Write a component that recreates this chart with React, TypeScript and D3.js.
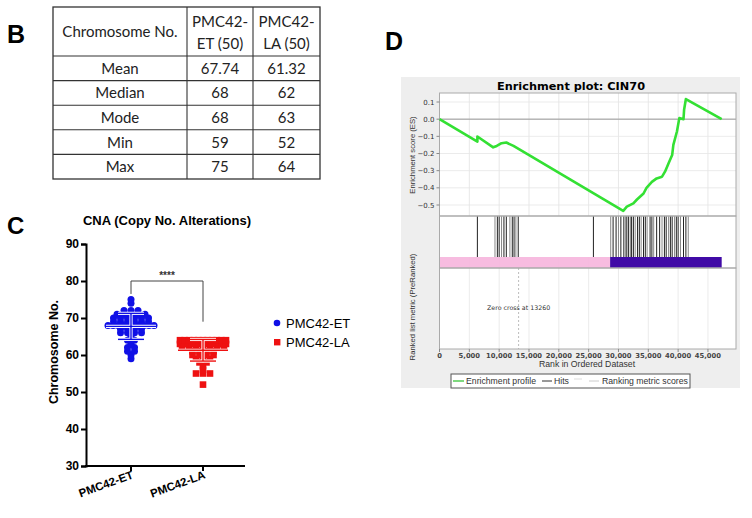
import { useEffect, useRef } from "react";
import * as d3 from "d3";

// Panel B table
const tableHeaders = [["Chromosome No."], ["PMC42-", "ET (50)"], ["PMC42-", "LA (50)"]];
const statRows = ["Mean", "Median", "Mode", "Min", "Max"];
const etStats = ["67.74", "68", "68", "59", "75"];
const laStats = ["61.32", "62", "63", "52", "64"];

// Panel C scatter
const groups = ["PMC42-ET", "PMC42-LA"];
const etValues = [59, 60, 61, 61, 62, 62, 63, 64, 64, 65, 66, 66, 66, 66, 67, 67, 67, 67,
    68, 68, 68, 68, 68, 68, 68, 68, 68, 68, 69, 69, 69, 69, 69, 69, 70, 70, 70, 70, 70, 70,
    71, 71, 71, 71, 71, 72, 72, 72, 74, 75];
const laValues = [52, 55, 55, 55, 56, 57, 58, 58, 59, 59, 59, 60, 60, 60, 60, 61, 61, 61, 61,
    62, 62, 62, 62, 62, 62, 62, 63, 63, 63, 63, 63, 63, 63, 63, 63, 63, 63, 63, 63,
    64, 64, 64, 64, 64, 64, 64, 64, 64, 64, 64];
const cnaTicks = [30, 40, 50, 60, 70, 80, 90];

// Panel D enrichment plot
const esRanks = [0, 6350, 6350, 9000, 9600, 10400, 11200, 12400, 30800, 31400, 32500, 33100, 34200,
    34700, 35600, 36400, 37300, 37800, 38400, 39000, 39200, 39800, 40200, 40900, 41000, 41300, 47300];
const esScores = [0, -0.131, -0.101, -0.164, -0.156, -0.14, -0.136, -0.156, -0.534, -0.51, -0.49,
    -0.468, -0.433, -0.4, -0.365, -0.345, -0.335, -0.306, -0.257, -0.209, -0.15, -0.072, 0.006,
    0.0, 0.055, 0.117, 0];
const hitRanks = [6350, 9300, 9700, 10000, 10400, 10800, 11200, 11800, 12200, 12500, 12800, 13200,
    25800, 28700, 29100, 29600, 30000, 30400, 30900, 31200, 31400, 31700, 32000, 32200, 32500,
    32800, 33200, 33500, 33800, 34200, 34500, 34800, 35300, 35600, 35900, 36400, 36900, 37300,
    37700, 38000, 38400, 38700, 39000, 39400, 39700, 40000, 40400, 40900, 41300, 41700];
const esTicks = [0.1, 0, -0.1, -0.2, -0.3, -0.4, -0.5];
const rankTicks = [0, 5000, 10000, 15000, 20000, 25000, 30000, 35000, 40000, 45000];
const datasetSize = 49700;
const zeroCross = 13260;
const posEnd = 28600;
const negEnd = 47300;

const ARIAL = "Arial, 'Liberation Sans', sans-serif";

export default function App() {
    const ref = useRef<SVGSVGElement>(null);

    useEffect(() => {
        const svg = d3.select(ref.current);
        svg.selectAll("*").remove();

        // ---------- B: table ----------
        const tb = svg.append("g").style("font-family", "Lato, 'Open Sans', sans-serif");
        svg.append("text").attr("x", 7).attr("y", 43).text("B")
            .style("font", `bold 25px ${ARIAL}`);
        const colX = [53, 187, 253, 320];
        const rowY = d3.scaleLinear().domain([0, 5]).range([56, 179]);
        tb.append("rect").attr("x", colX[0]).attr("y", 7)
            .attr("width", colX[3] - colX[0]).attr("height", rowY(5) - 7)
            .attr("fill", "none").attr("stroke", "#333").attr("stroke-width", 1.3);
        [1, 2].forEach(i => tb.append("line").attr("x1", colX[i]).attr("x2", colX[i])
            .attr("y1", 7).attr("y2", rowY(5)).attr("stroke", "#333").attr("stroke-width", 1.1));
        d3.range(5).forEach(i => tb.append("line").attr("x1", colX[0]).attr("x2", colX[3])
            .attr("y1", rowY(i)).attr("y2", rowY(i)).attr("stroke", "#333").attr("stroke-width", 1.1));
        tableHeaders.forEach((lines, c) => {
            const cx = (colX[c] + colX[c + 1]) / 2;
            lines.forEach((t, k) => {
                tb.append("text").attr("x", cx)
                    .attr("y", lines.length === 1 ? 37 : 27 + k * 22)
                    .attr("text-anchor", "middle").attr("font-size", 15).attr("fill", "#222").text(t);
            });
        });
        statRows.forEach((r, i) => {
            const y = (rowY(i) + rowY(i + 1)) / 2 + 5.5;
            [r, etStats[i], laStats[i]].forEach((t, c) => {
                tb.append("text").attr("x", (colX[c] + colX[c + 1]) / 2).attr("y", y)
                    .attr("text-anchor", "middle").attr("font-size", 15).attr("fill", "#222").text(t);
            });
        });

        // ---------- C: scatter ----------
        const cg = svg.append("g").style("font-family", ARIAL);
        svg.append("text").attr("x", 7).attr("y", 234).text("C")
            .style("font", `bold 24px ${ARIAL}`);
        cg.append("text").attr("x", 167).attr("y", 225).attr("text-anchor", "middle")
            .attr("font-weight", "bold").attr("font-size", 13).text("CNA (Copy No. Alterations)");

        const yScale = d3.scaleLinear().domain([30, 90]).range([466, 244]);
        const xScale = d3.scalePoint().domain(groups).range([131, 203]);

        const yAxis = cg.append("g").attr("transform", "translate(86,0)")
            .call(d3.axisLeft(yScale).tickValues(cnaTicks).tickSize(5).tickPadding(2));
        yAxis.select(".domain").attr("stroke-width", 2);
        yAxis.selectAll(".tick line").attr("stroke-width", 2);
        yAxis.selectAll("text").attr("font-size", 12).attr("font-weight", "bold")
            .attr("font-family", ARIAL);

        cg.append("line").attr("x1", 85).attr("x2", 245).attr("y1", 466).attr("y2", 466)
            .attr("stroke", "#000").attr("stroke-width", 2);
        groups.forEach(g => {
            const x = xScale(g) as number;
            cg.append("line").attr("x1", x).attr("x2", x).attr("y1", 466).attr("y2", 471)
                .attr("stroke", "#000").attr("stroke-width", 2);
            cg.append("text").attr("transform", `translate(${x + 3},${478}) rotate(-20)`)
                .attr("text-anchor", "end").attr("font-size", 11.5).attr("font-weight", "bold").text(g);
        });
        cg.append("text").attr("transform", "translate(58,352) rotate(-90)")
            .attr("text-anchor", "middle").attr("font-size", 12.5).attr("font-weight", "bold")
            .text("Chromosome No.");

        const series = [
            { name: groups[0], values: etValues, color: "#1010e6", shape: "circle" },
            { name: groups[1], values: laValues, color: "#ee1111", shape: "square" },
        ];
        series.forEach(s => {
            const cx = xScale(s.name) as number;
            const rows = d3.group(s.values, v => v);
            rows.forEach((vals, v) => {
                const n = vals.length;
                const step = n > 1 ? Math.min(7, 46 / (n - 1)) : 0;
                vals.forEach((_, j) => {
                    const x = cx + (j - (n - 1) / 2) * step;
                    const y = yScale(v);
                    if (s.shape === "circle") {
                        cg.append("circle").attr("cx", x).attr("cy", y).attr("r", 3.5).attr("fill", s.color);
                    } else {
                        cg.append("rect").attr("x", x - 3.3).attr("y", y - 3.3)
                            .attr("width", 6.6).attr("height", 6.6).attr("fill", s.color);
                    }
                });
            });
            const m = d3.mean(s.values) as number;
            const sd = d3.deviation(s.values) as number;
            const segs = [
                [cx - 25, m, cx + 25, m],
                [cx - 13, m + sd, cx + 13, m + sd],
                [cx - 13, m - sd, cx + 13, m - sd],
                [cx, m - sd, cx, m + sd],
            ];
            [["#fff", 3.2], [s.color, 1.4]].forEach(([col, w]) => {
                segs.forEach(([x1, v1, x2, v2]) => cg.append("line")
                    .attr("x1", x1).attr("x2", x2).attr("y1", yScale(v1)).attr("y2", yScale(v2))
                    .attr("stroke", col as string).attr("stroke-width", w as number));
            });
        });

        // significance bracket
        const bx1 = xScale(groups[0]) as number, bx2 = xScale(groups[1]) as number;
        cg.append("path")
            .attr("d", `M${bx1},${yScale(76.5)}V${yScale(80)}H${bx2}V${yScale(69)}`)
            .attr("fill", "none").attr("stroke", "#444").attr("stroke-width", 1);
        cg.append("text").attr("x", (bx1 + bx2) / 2).attr("y", 279).attr("text-anchor", "middle")
            .attr("font-size", 10).attr("font-weight", "bold").attr("fill", "#333").text("****");

        // legend
        cg.append("circle").attr("cx", 277).attr("cy", 323).attr("r", 3.3).attr("fill", series[0].color);
        cg.append("rect").attr("x", 274).attr("y", 339).attr("width", 6.4).attr("height", 6.4).attr("fill", series[1].color);
        cg.append("text").attr("x", 286).attr("y", 327.5).attr("font-size", 13).text(groups[0]);
        cg.append("text").attr("x", 286).attr("y", 347).attr("font-size", 13).text(groups[1]);

        // ---------- D: GSEA ----------
        svg.append("text").attr("x", 385).attr("y", 50).text("D")
            .style("font", `bold 25px ${ARIAL}`);
        const dg = svg.append("g").style("font-family", "'DejaVu Sans', sans-serif");
        dg.append("rect").attr("x", 401).attr("y", 77).attr("width", 339).attr("height", 311).attr("fill", "#eeeeee");
        dg.append("text").attr("x", 571).attr("y", 89.5).attr("text-anchor", "middle")
            .attr("font-weight", "bold").attr("font-size", 11.3).text("Enrichment plot: CIN70");

        const rx = d3.scaleLinear().domain([0, datasetSize]).range([439.5, 736]);
        const ey = d3.scaleLinear().domain([-0.5, 0.1]).range([205, 102]);
        const esTop = 93, esBot = 216, hitBot = 257, barBot = 268, rankBot = 349;

        // panels
        dg.append("rect").attr("x", rx(0)).attr("y", esTop).attr("width", rx(datasetSize) - rx(0))
            .attr("height", rankBot - esTop).attr("fill", "#fff");
        // grid ES
        rankTicks.slice(1).forEach(t => dg.append("line").attr("x1", rx(t)).attr("x2", rx(t))
            .attr("y1", esTop).attr("y2", esBot).attr("stroke", "#e2e2e2").attr("stroke-width", 0.8));
        esTicks.forEach(t => dg.append("line").attr("x1", rx(0)).attr("x2", rx(datasetSize))
            .attr("y1", ey(t)).attr("y2", ey(t)).attr("stroke", "#e6e6e6").attr("stroke-width", 0.8));
        // grid ranked
        rankTicks.slice(1).forEach(t => dg.append("line").attr("x1", rx(t)).attr("x2", rx(t))
            .attr("y1", hitBot).attr("y2", rankBot).attr("stroke", "#e6e6e6").attr("stroke-width", 0.8));
        dg.append("line").attr("x1", rx(0)).attr("x2", rx(datasetSize)).attr("y1", ey(0)).attr("y2", ey(0))
            .attr("stroke", "#999").attr("stroke-width", 1);

        // colour bar
        dg.append("rect").attr("x", rx(0)).attr("y", hitBot).attr("width", rx(posEnd) - rx(0))
            .attr("height", barBot - hitBot).attr("fill", "#f6b6dd").attr("opacity", 0.92);
        dg.append("rect").attr("x", rx(posEnd)).attr("y", hitBot).attr("width", rx(negEnd) - rx(posEnd))
            .attr("height", barBot - hitBot).attr("fill", "#400aa6");

        // hits
        dg.selectAll(".hit").data(hitRanks).enter().append("line")
            .attr("x1", d => rx(d)).attr("x2", d => rx(d)).attr("y1", esBot).attr("y2", hitBot)
            .attr("stroke", (d, i) => (i % 3 === 1 ? "#888" : "#222")).attr("stroke-width", 1);

        // zero cross
        dg.append("line").attr("x1", rx(zeroCross)).attr("x2", rx(zeroCross)).attr("y1", barBot).attr("y2", rankBot)
            .attr("stroke", "#aaa").attr("stroke-dasharray", "2,2").attr("stroke-width", 0.8);
        dg.append("text").attr("x", 487).attr("y", 310).attr("font-size", 6.3).attr("fill", "#333")
            .text(`Zero cross at ${zeroCross}`);

        // frames
        [[esTop, esBot], [esBot, barBot], [barBot, rankBot]].forEach(([a, b]) =>
            dg.append("rect").attr("x", rx(0)).attr("y", a).attr("width", rx(datasetSize) - rx(0))
                .attr("height", b - a).attr("fill", "none").attr("stroke", "#aaa").attr("stroke-width", 1));

        // ES curve
        const line = d3.line<number>().x((d, i) => rx(esRanks[i])).y(d => ey(d));
        dg.append("path").datum(esScores).attr("d", line).attr("fill", "none")
            .attr("stroke", "#33e033").attr("stroke-width", 2.6).attr("stroke-linejoin", "round");

        // ticks
        esTicks.forEach(t => {
            dg.append("line").attr("x1", rx(0) - 3).attr("x2", rx(0)).attr("y1", ey(t)).attr("y2", ey(t)).attr("stroke", "#888");
            dg.append("text").attr("x", rx(0) - 5).attr("y", ey(t) + 2.5).attr("text-anchor", "end")
                .attr("font-size", 7).attr("fill", "#333").text(d3.format(".1f")(t));
        });
        rankTicks.forEach(t => {
            dg.append("line").attr("x1", rx(t)).attr("x2", rx(t)).attr("y1", rankBot).attr("y2", rankBot + 3).attr("stroke", "#888");
            dg.append("text").attr("x", rx(t)).attr("y", rankBot + 9).attr("text-anchor", "middle")
                .attr("font-size", 6.8).attr("font-weight", "bold").attr("fill", "#444").text(d3.format(",")(t));
        });
        const lab = dg.append("g").style("font-family", ARIAL).attr("fill", "#333");
        lab.append("text").attr("x", 587).attr("y", 367).attr("text-anchor", "middle")
            .attr("font-size", 8.7).text("Rank in Ordered Dataset");
        lab.append("text").attr("transform", "translate(415,155) rotate(-90)").attr("text-anchor", "middle")
            .attr("font-size", 7.7).text("Enrichment score (ES)");
        lab.append("text").attr("transform", "translate(415,307) rotate(-90)").attr("text-anchor", "middle")
            .attr("font-size", 7.7).text("Ranked list metric (PreRanked)");

        // legend
        const lg = dg.append("g").style("font-family", ARIAL);
        lg.append("rect").attr("x", 451).attr("y", 374).attr("width", 239).attr("height", 14)
            .attr("fill", "#fff").attr("stroke", "#555").attr("stroke-width", 1);
        lg.append("line").attr("x1", 453).attr("x2", 464).attr("y1", 381).attr("y2", 381).attr("stroke", "#5c5").attr("stroke-width", 1.5);
        lg.append("text").attr("x", 466).attr("y", 384).attr("font-size", 8.7).attr("fill", "#333").text("Enrichment profile");
        lg.append("line").attr("x1", 542).attr("x2", 552).attr("y1", 381).attr("y2", 381).attr("stroke", "#333").attr("stroke-width", 1);
        lg.append("text").attr("x", 554).attr("y", 384).attr("font-size", 8.7).attr("fill", "#333").text("Hits");
        lg.append("line").attr("x1", 574).attr("x2", 582).attr("y1", 379).attr("y2", 379).attr("stroke", "#ddd").attr("stroke-width", 1);
        lg.append("line").attr("x1", 589).attr("x2", 599).attr("y1", 381).attr("y2", 381).attr("stroke", "#ccc").attr("stroke-width", 1);
        lg.append("text").attr("x", 602).attr("y", 384).attr("font-size", 8.7).attr("fill", "#333").text("Ranking metric scores");
    }, []);

    return (
        <svg ref={ref} width={752} height={518}
            style={{ position: "absolute", left: 0, top: 0, background: "#fff" }} />
    );
}
